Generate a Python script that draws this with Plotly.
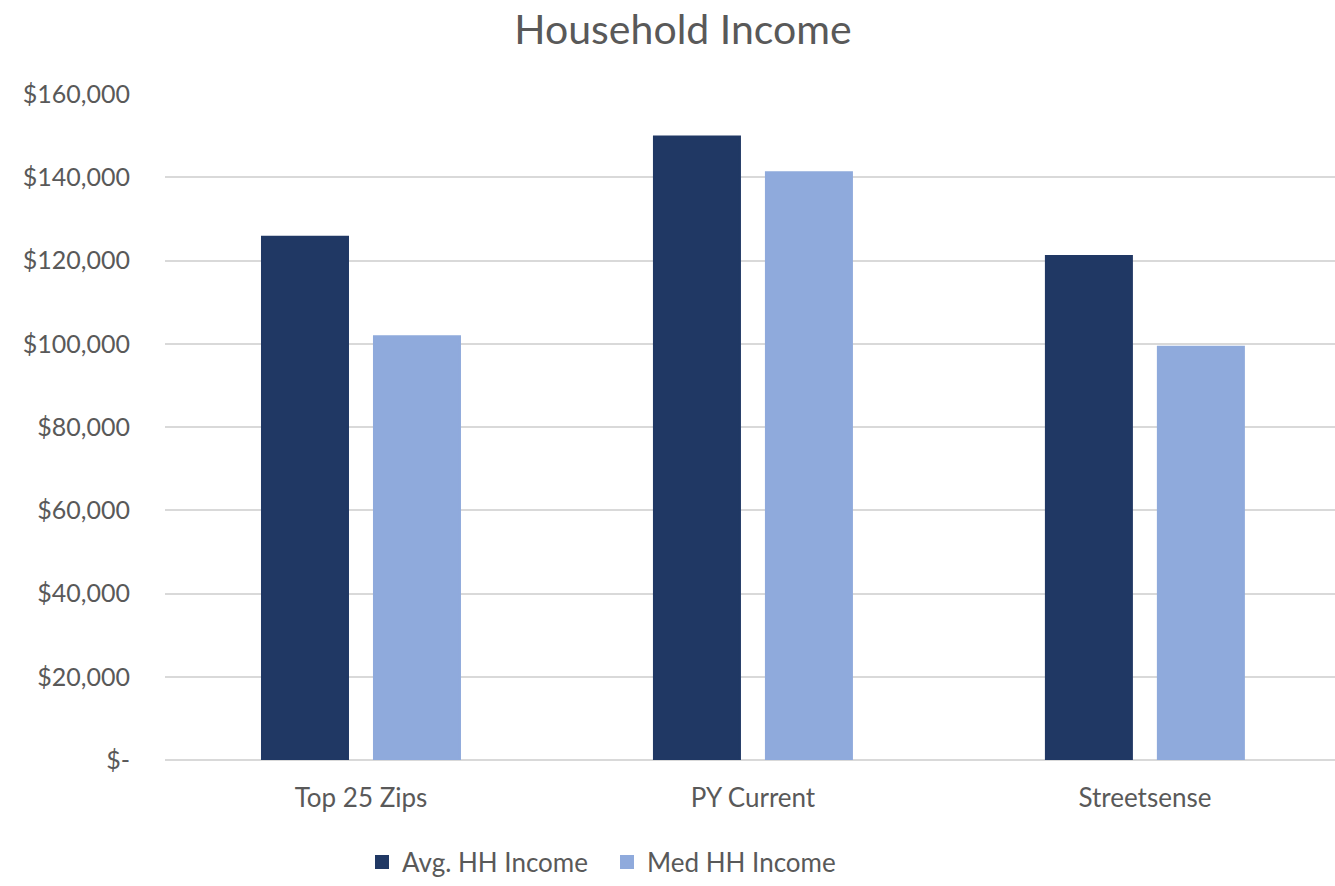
import plotly.graph_objects as go

# Household income by market
categories = ["Top 25 Zips", "PY Current", "Streetsense"]
avg_income = [125700, 149800, 121100]
med_income = [101800, 141200, 99300]

# Y axis ticks
y_tickvals = [0, 20000, 40000, 60000, 80000, 100000, 120000, 140000, 160000]
y_ticktext = ["$-", "$20,000", "$40,000", "$60,000", "$80,000",
              "$100,000", "$120,000", "$140,000", "$160,000"]

FONT = "Lato"
TEXT = "#595959"
GRID = "#D9D9D9"
AVG_COLOR = "#203864"
MED_COLOR = "#8FAADC"

fig = go.Figure()
fig.add_trace(go.Bar(name="Avg. HH Income", x=categories, y=avg_income,
                     marker=dict(color=AVG_COLOR, line=dict(width=2, color=AVG_COLOR))))
fig.add_trace(go.Bar(name="Med HH Income", x=categories, y=med_income,
                     marker=dict(color=MED_COLOR, line=dict(width=2, color=MED_COLOR))))

fig.update_layout(
    width=1335, height=886,
    paper_bgcolor="white", plot_bgcolor="white",
    margin=dict(l=165, r=0, t=94, b=126),
    barmode="group", bargap=0.4286, bargroupgap=0.232,
    font=dict(family=FONT, color=TEXT),
    title=dict(text="Household Income", x=683 / 1335, xref="container", xanchor="center",
               y=1 - 30 / 886, yref="container", yanchor="middle",
               font=dict(size=41, color=TEXT, family=FONT)),
    legend=dict(orientation="h", x=362 / 1335, xref="container", xanchor="left",
                y=1 - 862 / 886, yref="container", yanchor="middle",
                font=dict(size=26, color=TEXT, family=FONT),
                itemwidth=30, tracegroupgap=0, entrywidth=200, entrywidthmode="pixels"),
    showlegend=True,
)
fig.update_xaxes(range=[-0.5, 2.485], showgrid=False, showline=False, zeroline=False,
                 ticks="", tickfont=dict(size=26, color=TEXT, family=FONT),
                 ticklabelstandoff=20)
fig.update_yaxes(range=[0, 160000], tickvals=y_tickvals, ticktext=y_ticktext,
                 showgrid=True, gridcolor=GRID, gridwidth=2,
                 zeroline=True, zerolinecolor=GRID, zerolinewidth=2,
                 showline=False, ticks="",
                 tickfont=dict(size=25, color=TEXT, family=FONT),
                 ticklabelstandoff=34)

fig.write_html("out.html")
